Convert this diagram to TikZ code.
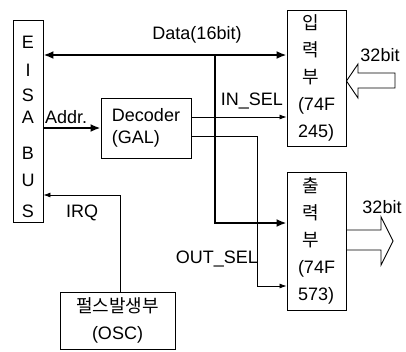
\documentclass[tikz,border=0pt]{standalone}
\usepackage{fontspec}
\setmainfont{Liberation Sans}
\newfontfamily\kr{Noto Sans CJK KR}
\usetikzlibrary{arrows.meta, positioning}

\begin{document}
\begin{tikzpicture}[x=1pt, y=-1pt,
    blk/.style={draw, line width=0.9pt, inner sep=0pt},
    lbl/.style={font=\fontsize{18}{27}\selectfont, inner sep=0pt},
    wide/.style={line width=2.6pt, -{Latex[length=10pt, width=8pt]}},
    thin/.style={line width=0.8pt, -{Latex[length=7pt, width=5pt]}}]
  \useasboundingbox (0,0) rectangle (406,351);

  % blocks
  \node[blk, minimum width=30pt, minimum height=202pt] (bus) at (28,121) {};
  \foreach \ch/\yy in {E/42, I/70, S/95, A/117, B/153, U/180, S/211}
    \node[lbl] at (28,\yy) {\ch};
  \node[blk, lbl, minimum width=90pt, minimum height=60pt, align=left] (dec) at (146,128)
    {Decoder\\[-5pt](GAL)};
  \node[blk, lbl, minimum width=59pt, minimum height=136pt, align=left] (inp) at (316.5,78)
    {\hspace{4pt}{\kr 입}\\\hspace{4pt}{\kr 력}\\\hspace{4pt}{\kr 부}\\(74F\\245)};
  \node[blk, lbl, minimum width=59pt, minimum height=138pt, align=left] (outp) at (316.5,241)
    {\hspace{4pt}{\kr 출}\\\hspace{4pt}{\kr 력}\\\hspace{4pt}{\kr 부}\\(74F\\573)};
  \node[blk, lbl, minimum width=115pt, minimum height=57pt, align=center] (osc) at (117.5,320.5)
    {{\kr 펄스발생부}\\(OSC)};

  % data bus
  \coordinate (dy) at (0,55);
  \coordinate (tap) at (215,55);
  \draw[wide, {Latex[length=10pt, width=8pt]}-{Latex[length=10pt, width=8pt]}]
    (bus.east |- dy) -- (inp.west |- dy);
  \draw[wide] (tap) -- (tap |- 0,223) -- (outp.west |- 0,223);
  \node[lbl] at (197,35) {Data(16bit)};

  % address
  \draw[wide] (bus.east |- dec.west) -- (dec.west);
  \node[lbl, anchor=south west] at (45,124) {Addr.};

  % selects
  \draw[thin] (dec.east |- 0,117) -- (inp.west |- 0,117);
  \node[lbl, anchor=south east] at (283,109) {IN\_SEL};
  \coordinate (bend) at (257,136);
  \draw[thin] (dec.east |- bend) -- (bend) -- (bend |- 0,286) -- (outp.west |- 0,286);
  \node[lbl, anchor=south east] at (258,267) {OUT\_SEL};

  % interrupt
  \coordinate (irq) at (120,195);
  \draw[thin] (osc.north -| irq) -- (irq) -- (bus.east |- irq);
  \node[lbl] at (82,213) {IRQ};

  % 32bit ports
  \draw[line width=0.9pt] (395,73) -- (358,73) -- (358,64) -- (inp.east |- 0,81)
    -- (358,98) -- (358,88) -- (395,88) -- cycle;
  \node[lbl] at (380,55) {32bit};
  \draw[line width=0.9pt] (outp.east |- 0,230) -- (381,230) -- (381,217) -- (393,241)
    -- (381,265) -- (381,250) -- (outp.east |- 0,250);
  \node[lbl] at (382,207) {32bit};
\end{tikzpicture}
\end{document}
